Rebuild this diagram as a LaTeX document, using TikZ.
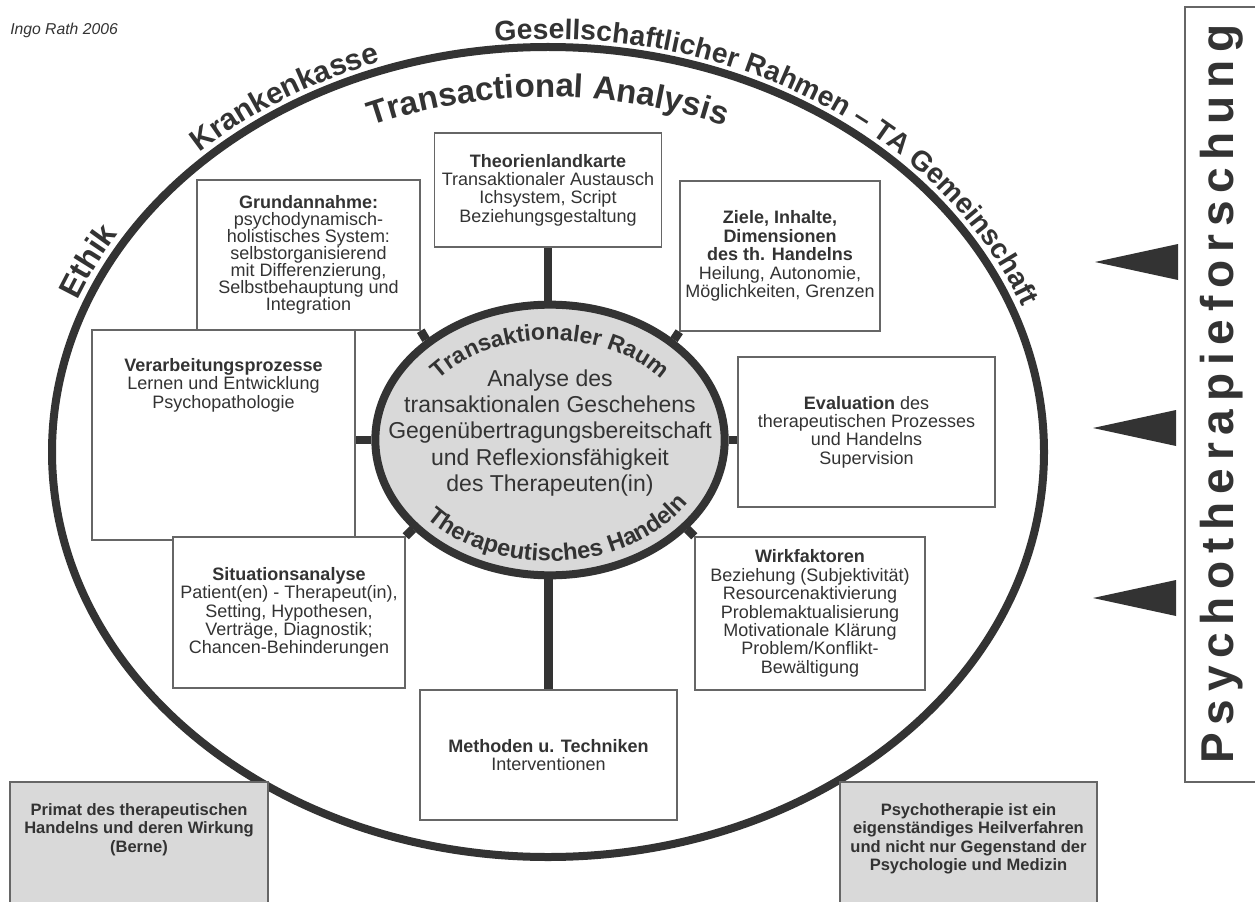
\documentclass[tikz,border=0pt]{standalone}
\usepackage{fontspec}
\setmainfont{Liberation Sans}
\setsansfont{Liberation Sans}
\usetikzlibrary{shapes.geometric,decorations.text,backgrounds}
\definecolor{dark}{HTML}{333333}
\definecolor{boxline}{HTML}{666666}
\definecolor{fillgray}{HTML}{D9D9D9}
\newcommand{\boxfont}{\fontsize{13.5}{13.8}\selectfont}
\newcommand{\grayfont}{\fontsize{12.4}{13.9}\selectfont\bfseries}
\begin{document}
\begin{tikzpicture}[x=0.75pt,y=-0.75pt,
  box/.style={draw=boxline,line width=1.1pt,fill=white,inner sep=0pt,align=center,text=dark,font=\boxfont},
  graybox/.style={box,fill=fillgray},
  txt/.style={inner sep=0pt,align=center,text=dark},
  conn/.style={draw=dark,line width=6.5pt},
  ring/.style={draw=dark,line width=6pt}]
\useasboundingbox (0,0) rectangle (1255,902);
\clip (0,0) rectangle (1255,902);

% outer ellipse
\draw[ring] (548,452) ellipse [x radius=496, y radius=405];

% texts along the outer ellipse
\path[decorate,decoration={text along path,text align=left,
  text={|\fontsize{21.2}{22}\selectfont\bfseries\color{dark}|Gesellschaftlicher Rahmen – TA Gemeinschaft}}]
  (495.1,41.3) arc[start angle=264,end angle=352,x radius=506,y radius=413];
\path[decorate,decoration={text along path,text align=left,
  text={|\fontsize{22.5}{23}\selectfont\bfseries\color{dark}|Krankenkasse}}]
  (199.7,152.4) arc[start angle=226.5,end angle=262,x radius=506,y radius=413];
\path[decorate,decoration={text along path,text align=left,
  text={|\fontsize{24}{25}\selectfont\bfseries\color{dark}|Ethik}}]
  (77.2,300.6) arc[start angle=201.5,end angle=232,x radius=506,y radius=413];
\path[decorate,decoration={text along path,text align=center,
  text={|\fontsize{24.75}{25}\selectfont\bfseries\color{dark}|Transactional Analysis}}]
  (232.6,201) arc[start angle=225,end angle=315,x radius=446,y radius=355];

% boxes
\node[box,minimum width=170.25pt,minimum height=85.5pt] (theo) at (548,190)
  {\textbf{Theorienlandkarte}\\Transaktionaler Austausch\\Ichsystem, Script\\Beziehungsgestaltung};
\node[box,minimum width=167.25pt,minimum height=112.5pt,font=\fontsize{13.5}{12.7}\selectfont] (grund) at (308.5,255)
  {\textbf{Grundannahme:}\\psychodynamisch-\\holistisches System:\\selbstorganisierend\\mit Differenzierung,\\Selbstbehauptung und\\Integration};
\node[box,minimum width=150pt,minimum height=112.5pt] (ziele) at (780,256)
  {\textbf{Ziele, Inhalte,}\\\textbf{Dimensionen}\\\textbf{des th. Handelns}\\Heilung, Autonomie,\\Möglichkeiten, Grenzen};
\node[box,minimum width=197.25pt,minimum height=157.5pt] (verarb) at (223.5,435) {};
\node[txt,font=\boxfont,anchor=north] (verarbtext) at (223.5,358)
  {\textbf{Verarbeitungsprozesse}\\Lernen und Entwicklung\\Psychopathologie};
\node[box,minimum width=192.75pt,minimum height=112.5pt] (eval) at (866.5,432)
  {\textbf{Evaluation} des\\therapeutischen Prozesses\\und Handelns\\Supervision};
\node[box,minimum width=174pt,minimum height=113.25pt] (situ) at (289,612.5)
  {\textbf{Situationsanalyse}\\Patient(en) - Therapeut(in),\\Setting, Hypothesen,\\Verträge, Diagnostik;\\Chancen-Behinderungen};
\node[box,minimum width=172.5pt,minimum height=114.75pt] (wirk) at (810,613.5)
  {\textbf{Wirkfaktoren}\\Beziehung (Subjektivität)\\Resourcenaktivierung\\Problemaktualisierung\\Motivationale Klärung\\Problem/Konflikt-\\Bewältigung};
\node[box,minimum width=192.75pt,minimum height=97.5pt] (meth) at (548.5,755)
  {\textbf{Methoden u. Techniken}\\Interventionen};

% inner ellipse
\node[ellipse,draw=dark,line width=6pt,fill=fillgray,minimum width=262pt,minimum height=203pt,inner sep=0pt] (raum) at (550,440) {};
\node[txt,font=\fontsize{17.25}{19.6}\selectfont] (raumtext) at (550,433)
  {Analyse des\\transaktionalen Geschehens\\Gegenübertragungsbereitschaft\\und Reflexionsfähigkeit\\des Therapeuten(in)};
\path[decorate,decoration={text along path,text align=center,
  text={|\fontsize{17.25}{18}\selectfont\bfseries\color{dark}|Transaktionaler Raum}}]
  (418.4,405.8) arc[start angle=200,end angle=340,x radius=140,y radius=100];
\path[decorate,decoration={text along path,text align=center,
  text={|\fontsize{17.8}{18}\selectfont\bfseries\color{dark}|Therapeutisches Handeln}}]
  (390.5,461) arc[start angle=170,end angle=0,x radius=162,y radius=121];

% connectors (behind boxes and ellipse)
\begin{scope}[on background layer]
\fill[white] (0,0) rectangle (1255,902);
\draw[conn] (theo.south) -- (theo.south |- raum.north);
\draw[conn] (meth.north) -- (meth.north |- raum.south);
\draw[conn] (raum.west) -- (raum.west -| verarb.east);
\draw[conn] (raum.east) -- (raum.east -| eval.west);
\draw[conn] (grund.south east) -- (raum.141);
\draw[conn] (ziele.south west) -- (raum.39);
\draw[conn] (situ.north east) -- (raum.213);
\draw[conn] (wirk.north west) -- (raum.327);
\end{scope}

% bottom gray boxes
\node[graybox,minimum width=193.5pt,minimum height=103.5pt] (primat) at (139,851) {};
\node[txt,font=\grayfont,anchor=north] (primattext) at (139,803)
  {Primat des therapeutischen\\Handelns und deren Wirkung\\(Berne)};
\node[graybox,minimum width=192.75pt,minimum height=103.5pt] (heil) at (968.5,851) {};
\node[txt,font=\grayfont,anchor=north] (heiltext) at (968.5,803)
  {Psychotherapie ist ein\\eigenständiges Heilverfahren\\und nicht nur Gegenstand der\\Psychologie und Medizin};

% right bar
\node[box,minimum width=60pt,minimum height=581.25pt] (bar) at (1225,394.5) {};
\node[txt,rotate=90,font=\fontsize{34.5}{35}\selectfont\bfseries\addfontfeatures{LetterSpace=17}] (bartext) at (1222,394) {Psychotherapieforschung};
\fill[dark] (1095,262) -- (1178,244) -- (1178,280) -- cycle;
\fill[dark] (1093,428) -- (1176,410) -- (1176,446) -- cycle;
\fill[dark] (1093,598) -- (1176,580) -- (1176,616) -- cycle;

% author
\node[txt,anchor=west,font=\fontsize{11.8}{12}\selectfont\itshape] (author) at (10,30) {Ingo Rath 2006};
\end{tikzpicture}
\end{document}
